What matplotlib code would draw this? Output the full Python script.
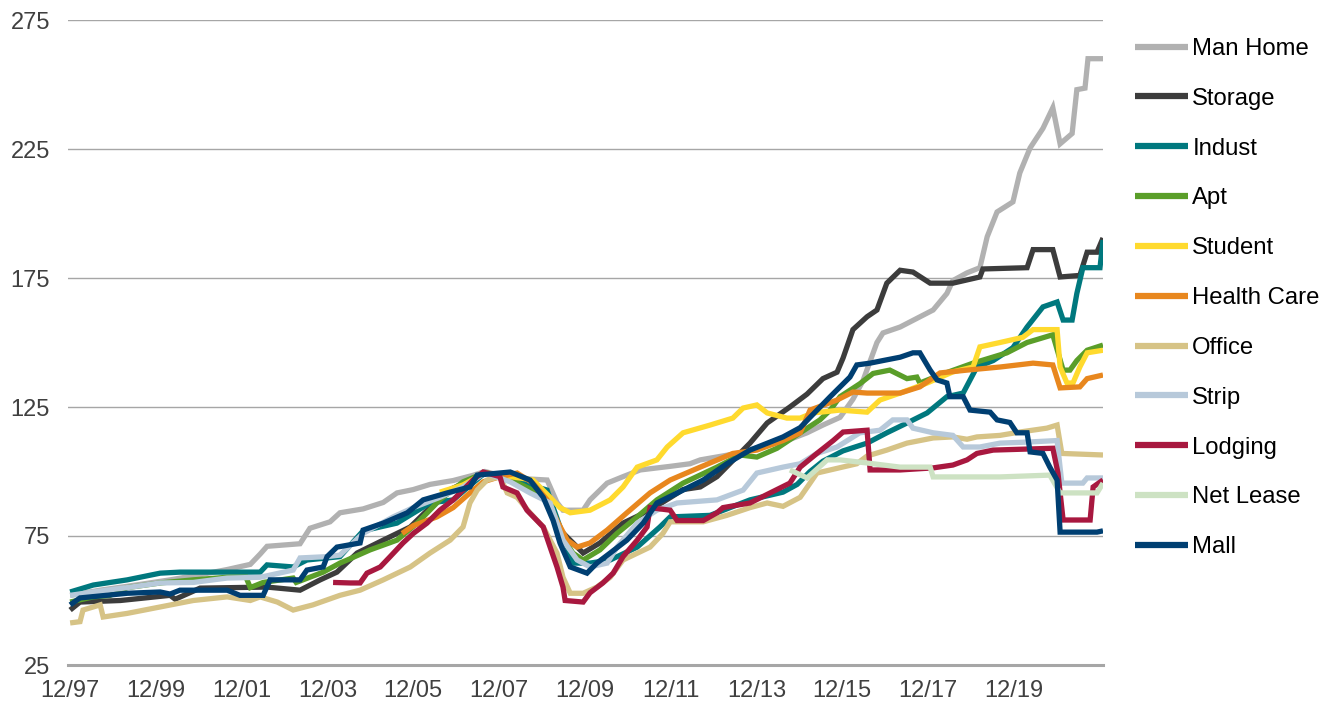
import matplotlib
matplotlib.use("Agg")
import matplotlib.pyplot as plt

plt.rcParams['font.family'] = ['Liberation Sans', 'DejaVu Sans']

# tiempo en años desde 12/97, valores del índice (pico ~ 100)
man_home_t = [0.00, 0.70, 1.33, 2.33, 3.03, 3.66, 4.20, 4.43, 4.59, 5.36, 5.59, 6.06, 6.29, 6.83,
              7.30, 7.62, 8.00, 8.39, 8.93, 9.39, 9.67, 10.26, 11.12, 11.35, 11.49, 11.96, 12.12,
              12.52, 12.89, 13.29, 13.99, 14.45, 14.69, 15.55, 16.08, 16.71, 17.18, 17.55, 17.95,
              18.25, 18.48, 18.81, 18.95, 19.35, 20.12, 20.44, 20.58, 20.91, 21.21, 21.38, 21.61,
              21.98, 22.14, 22.38, 22.68, 22.91, 23.08, 23.36, 23.47, 23.66, 23.73, 24.08]
man_home_v = [52, 54, 55.5, 58, 60, 62, 64, 68, 71, 72, 78, 80.5, 84, 85.5,
              88, 91.7, 93, 95, 96.5, 98.5, 100, 97.5, 96.7, 88, 85, 85, 89,
              95.5, 98, 100.6, 102, 103, 104.5, 107, 109.5, 112, 115, 118, 121,
              128, 135, 150, 153.7, 156, 162.6, 169, 174, 177, 179, 191, 200.6,
              204.5, 215.7, 225.4, 233, 241, 227, 231, 248, 248.6, 260, 260]

storage_t = [0.00, 0.23, 1.17, 2.33, 2.45, 3.03, 3.80, 4.59, 5.36, 5.83, 6.22, 6.69, 7.30, 7.93,
             8.39, 8.86, 9.67, 10.26, 11.12, 11.35, 11.96, 12.35, 12.89, 13.52, 14.29, 14.69,
             15.08, 15.85, 16.25, 16.78, 17.18, 17.55, 17.88, 18.02, 18.25, 18.58, 18.81, 19.04,
             19.35, 19.65, 20.05, 20.58, 21.21, 21.28, 22.31, 22.45, 22.91, 23.08, 23.54, 23.71,
             23.94, 24.08]
storage_v = [46.3, 49.4, 50, 52, 50.5, 54.8, 55, 55.2, 54, 58, 61, 68.4, 73.4, 78.5,
             86, 93, 99.5, 98, 91.7, 78.5, 68.4, 72.3, 80, 85, 93, 94,
             98, 111, 118.8, 125, 130, 136, 138.5, 144, 155, 160, 162.6, 173,
             178, 177.3, 173, 173, 175.4, 178.5, 179, 186, 186, 175.4, 176, 185,
             185, 190.5]

indust_t = [0.00, 0.54, 1.33, 2.10, 2.56, 4.43, 4.59, 5.20, 5.52, 6.29, 6.83, 7.62, 8.39, 8.93,
            9.67, 10.26, 11.12, 11.42, 11.72, 12.12, 12.59, 13.22, 13.75, 13.99, 14.92, 15.85,
            16.62, 16.95, 17.25, 17.55, 18.02, 18.58, 19.04, 19.51, 19.98, 20.44, 20.82, 21.14,
            21.52, 21.98, 22.31, 22.68, 23.01, 23.15, 23.36, 23.47, 23.61, 24.01, 24.08]
indust_v = [53.3, 56, 58, 60.6, 61, 61, 63.8, 63, 65.7, 67, 77, 80, 87.8, 89,
            99.5, 97, 92.8, 78.5, 64.5, 64.5, 65.7, 70.7, 78.5, 82.4, 83, 89,
            92, 95, 100, 104, 108, 111, 115, 118.8, 122.7, 129, 130.4, 140.5,
            143, 148, 156, 163.8, 165.7, 158.7, 158.7, 169, 179, 179, 189.7]

apt_t = [0.00, 0.54, 0.93, 1.33, 2.10, 2.87, 3.66, 4.10, 4.20, 4.50, 5.20, 5.27, 5.90, 6.29, 6.46,
         6.99, 7.62, 8.09, 8.62, 9.16, 9.67, 10.26, 11.12, 11.35, 11.72, 11.96, 12.35, 12.75,
         13.22, 13.68, 14.29, 15.08, 15.62, 16.01, 16.48, 17.02, 17.48, 17.72, 17.95, 18.41,
         18.72, 19.11, 19.51, 19.74, 19.81, 20.28, 21.05, 21.84, 22.31, 22.91, 23.15, 23.31,
         23.47, 23.71, 24.08]
apt_v = [49.4, 51.4, 52, 55, 56.8, 58, 59, 59, 55, 57, 58.7, 57, 61, 64.5, 65.7,
         69.6, 73.4, 80, 89, 96, 99.5, 97, 90, 78.5, 68.4, 65.7, 69.6, 76,
         82.4, 89, 95.5, 101.7, 106.4, 105.6, 109, 115, 120, 123.8, 129, 134,
         138, 139.3, 136, 136.6, 134.3, 137.4, 142, 146, 150, 153, 139.3, 139.3,
         143, 147, 149]

student_t = [8.62, 9.16, 9.67, 10.79, 11.19, 11.42, 11.66, 12.12, 12.59, 12.89, 13.22, 13.68,
             13.92, 14.29, 14.92, 15.45, 15.69, 16.01, 16.25, 16.71, 17.02, 17.32, 17.95, 18.58,
             18.88, 19.35, 19.98, 20.58, 21.05, 21.21, 21.68, 22.21, 22.45, 23.01, 23.08, 23.24,
             23.38, 23.54, 23.71, 24.08]
student_v = [92, 94.8, 99.5, 96.7, 90, 86, 84, 85, 89, 94, 101.7, 104.5,
             109.5, 115, 118, 120.7, 124.6, 125.8, 122.7, 120.7, 120.7, 122.7, 123.8, 123,
             127.7, 130.4, 134.3, 138.6, 140.5, 148.3, 150, 152, 155, 155, 140.5, 134.3,
             134.3, 140.5, 146, 147]

health_t = [7.74, 8.00, 8.55, 8.93, 9.32, 9.63, 10.02, 10.42, 10.79, 11.12, 11.35, 11.59, 11.82,
            12.12, 12.52, 12.98, 13.52, 13.99, 14.69, 15.45, 16.01, 16.62, 17.02, 17.25, 17.88,
            18.25, 18.58, 19.35, 19.81, 20.28, 20.91, 21.68, 22.45, 22.91, 23.08, 23.54, 23.71,
            24.08]
health_v = [76, 79, 82.4, 86, 91.7, 96, 98, 99.4, 95.5, 89, 81, 73.4, 70.7,
            72.3, 77.3, 84, 91.7, 96.7, 101.7, 107, 108.3, 112, 115, 123.8, 127.7,
            130.8, 130.4, 130.4, 132.8, 138.2, 139.3, 140.5, 142, 141.3, 132.4, 132.8, 136,
            137.4]

office_t = [0.00, 0.23, 0.30, 0.70, 0.77, 1.33, 2.10, 2.87, 3.66, 4.20, 4.43, 4.83, 5.20, 5.66,
            6.29, 6.76, 7.30, 7.93, 8.39, 8.86, 9.16, 9.32, 9.49, 9.72, 10.02, 10.19, 10.42,
            10.72, 11.03, 11.35, 11.49, 11.66, 11.96, 12.28, 12.59, 12.89, 13.52, 13.82, 13.99,
            14.76, 15.31, 15.85, 16.25, 16.62, 17.02, 17.25, 17.41, 17.72, 18.34, 18.58, 19.04,
            19.51, 20.12, 20.58, 20.91, 21.14, 21.68, 22.14, 22.77, 23.01, 23.12, 24.08]
office_v = [41.3, 41.8, 46.3, 48.3, 43.6, 45, 47.5, 50, 51.4, 50, 51.4, 49.4, 46.3, 48.3,
            52, 54, 58, 63, 68.4, 73.4, 78.5, 87.8, 92.8, 96.7, 98, 91.7, 90,
            84, 78.5, 68.4, 59, 52.8, 52.8, 55.2, 59, 65.7, 70.7, 76, 80.5,
            80.5, 83, 86, 87.8, 86.5, 90, 95.5, 99.4, 100.6, 103, 106, 108.3,
            111, 113, 113.4, 112.5, 113.4, 114, 115.3, 116.8, 118, 107, 106.4]

strip_t = [0.00, 0.54, 1.33, 2.10, 2.87, 3.66, 4.43, 5.20, 5.36, 5.99, 6.29, 6.83, 7.53, 8.00,
           8.62, 9.16, 9.67, 10.26, 10.72, 11.19, 11.49, 11.82, 12.12, 12.52, 12.75, 13.22,
           13.68, 14.15, 15.08, 15.69, 16.01, 16.62, 17.02, 17.41, 17.88, 18.41, 18.88, 19.18,
           19.51, 19.65, 20.12, 20.58, 20.82, 21.21, 21.68, 22.31, 23.01, 23.12, 23.61, 23.71,
           24.08]
strip_v = [52, 53.3, 55, 56.8, 57, 58.7, 59, 61.8, 66.5, 67, 67.6, 76, 82.4, 86,
           90, 94, 99.5, 96, 91.7, 87.8, 73.4, 65.7, 63, 64.5, 70.7, 80,
           85, 87.8, 89, 92.8, 99.4, 101.7, 103, 107, 109.5, 115, 116, 120,
           120, 116.8, 115, 114, 109.5, 109.5, 111, 111.4, 112, 95.5, 95.5, 97.5,
           97.5]

lodging_t = [6.13, 6.53, 6.76, 6.92, 7.23, 7.46, 7.76, 8.00, 8.32, 8.62, 8.93, 9.16, 9.39, 9.63,
             10.02, 10.09, 10.42, 10.65, 11.03, 11.19, 11.35, 11.49, 11.54, 11.96, 12.12, 12.42,
             12.66, 12.89, 13.22, 13.45, 13.52, 13.99, 14.15, 14.76, 15.08, 15.22, 15.85, 16.32,
             16.78, 17.02, 17.41, 17.79, 18.02, 18.58, 18.65, 19.35, 20.12, 20.58, 20.91, 21.14,
             21.52, 22.91, 23.03, 23.15, 23.78, 23.85, 24.08]
lodging_v = [57, 56.8, 56.8, 60.6, 63, 67, 72.3, 76, 80, 85, 89, 92.8, 96.7, 99.8,
             98, 94, 91.7, 85, 78.5, 70.7, 63, 55.2, 50, 49.4, 53, 56.8,
             60.6, 67, 73.4, 78.5, 86, 85, 81, 81, 84, 86, 87.8, 91.7,
             95.5, 101.7, 107, 112, 115.3, 116, 100.6, 100.6, 101.4, 102.5, 104.5, 107,
             108.3, 109, 99.4, 81.2, 81.2, 94, 96.7]

net_lease_t = [16.78, 17.18, 17.65, 17.95, 18.58, 19.35, 20.05, 20.12, 21.68, 22.84, 23.08, 23.94, 24.08]
net_lease_v = [100.6, 97.5, 104.5, 104.5, 103.3, 101.7, 101.7, 97.9, 97.9, 98.6, 91.7, 91.7, 95.5]

mall_t = [0.00, 0.23, 1.33, 2.10, 2.33, 2.56, 3.66, 3.96, 4.50, 4.66, 5.36, 5.52, 5.90, 5.99,
          6.22, 6.76, 6.83, 7.30, 7.86, 8.23, 8.79, 9.32, 9.49, 10.26, 10.72, 11.03, 11.26,
          11.42, 11.66, 12.05, 12.28, 12.59, 12.98, 13.36, 13.68, 14.29, 14.76, 15.31, 15.85,
          16.62, 17.02, 17.25, 17.72, 18.18, 18.34, 18.65, 18.95, 19.35, 19.65, 19.81, 20.05,
          20.21, 20.44, 20.51, 20.82, 20.98, 21.45, 21.61, 21.91, 22.07, 22.31, 22.38, 22.68,
          22.84, 23.01, 23.08, 23.94, 24.08]
mall_v = [48.3, 51, 52.8, 53.3, 52.5, 54, 54, 52, 52, 58, 58, 61.8, 63, 67,
          70.7, 72.3, 77.3, 80, 84, 89, 91.7, 94, 98.6, 99.8, 96.7, 90, 81,
          72.3, 63, 60.6, 64.5, 68.4, 73.4, 80, 87.8, 92.8, 96.7, 103, 108.3,
          113.4, 117, 121, 129, 136.6, 141.3, 142, 143, 144.3, 146, 146, 139.3,
          135.5, 134.3, 129, 129, 123.8, 123, 120, 119, 115, 115, 107.6, 107,
          101.7, 96.7, 76.5, 76.5, 77]

series = [
    ("Man Home", man_home_t, man_home_v, "#B1B1B1"),
    ("Storage", storage_t, storage_v, "#3C3C3C"),
    ("Indust", indust_t, indust_v, "#00787E"),
    ("Apt", apt_t, apt_v, "#5A9E29"),
    ("Student", student_t, student_v, "#FFDA2E"),
    ("Health Care", health_t, health_v, "#E8871E"),
    ("Office", office_t, office_v, "#D6C386"),
    ("Strip", strip_t, strip_v, "#B7C9DA"),
    ("Lodging", lodging_t, lodging_v, "#A8183F"),
    ("Net Lease", net_lease_t, net_lease_v, "#CDE2C3"),
    ("Mall", mall_t, mall_v, "#003F72"),
]

x_ticks = [0, 2, 4, 6, 8, 10, 12, 14, 16, 18, 20, 22]
x_labels = ["12/97", "12/99", "12/01", "12/03", "12/05", "12/07",
            "12/09", "12/11", "12/13", "12/15", "12/17", "12/19"]
y_ticks = [25, 75, 125, 175, 225, 275]

fig = plt.figure(figsize=(13.33, 7.07), dpi=100)
ax = fig.add_axes([68 / 1333, 42 / 707, 1035 / 1333, 645 / 707])

for name, t, v, c in series:
    ax.plot(t, v, color=c, lw=3.8, label=name, solid_capstyle="butt", solid_joinstyle="miter")

ax.set_xlim(-0.05, 24.08)
ax.set_ylim(25, 275)
ax.set_yticks(y_ticks)
ax.set_xticks(x_ticks)
ax.set_xticklabels(x_labels)
ax.grid(axis="y", color="#A6A6A6", lw=1.0)
ax.set_axisbelow(True)
for s in ["top", "right", "left"]:
    ax.spines[s].set_visible(False)
ax.spines["bottom"].set_color("#A6A6A6")
ax.spines["bottom"].set_linewidth(2.2)
ax.tick_params(axis="both", length=0, labelsize=17, colors="#404040")
ax.tick_params(axis="y", pad=13)
ax.tick_params(axis="x", pad=11)

leg = fig.legend(loc="upper left", bbox_to_anchor=(1135 / 1333, 1 - 38 / 707),
                 frameon=False, fontsize=17.2, handlelength=2.2, handletextpad=0.2,
                 labelspacing=1.165, borderpad=0, borderaxespad=0)
for h in leg.get_lines():
    h.set_linewidth(4.5)

fig.savefig("out.png", dpi=100)
